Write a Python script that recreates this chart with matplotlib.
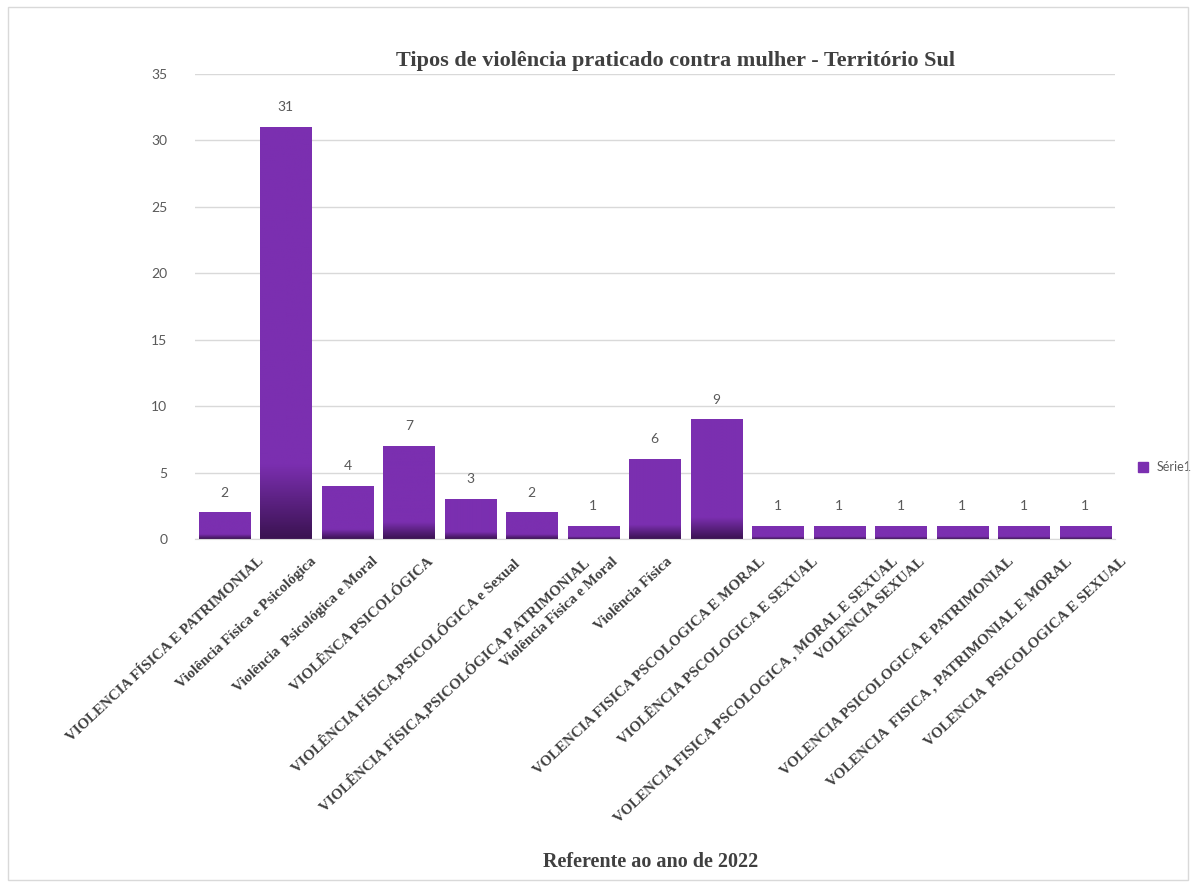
"""
Tipos de violência praticado contra mulher - Território Sul (2022)
"""

import numpy as np
import matplotlib.pyplot as plt
from matplotlib.colors import LinearSegmentedColormap
from matplotlib.patches import Rectangle
from matplotlib.lines import Line2D
from matplotlib.transforms import ScaledTranslation


# ── Data ─────────────────────────────────────────────────────────────────────
CATEGORIES = [
    "VIOLENCIA FÍSICA E PATRIMONIAL",
    "Violência Física e Psicológica",
    "Violência  Psicológica e Moral",
    "VIOLÊNCA PSICOLÓGICA",
    "VIOLÊNCIA FÍSICA,PSICOLÓGICA e Sexual",
    "VIOLÊNCIA FÍSICA,PSICOLÓGICA P ATRIMONIAL",
    "Violência Física e Moral",
    "Violência Física",
    "VOLENCIA FISICA PSCOLOGICA E MORAL",
    "VIOLÊNCIA PSCOLOGICA E SEXUAL",
    "VOLENCIA FISICA PSCOLOGICA , MORAL E SEXUAL",
    "VOLENCIA SEXUAL",
    "VOLENCIA PSICOLOGICA E PATRIMONIAL",
    "VOLENCIA  FISICA , PATRIMONIAL E MORAL",
    "VOLENCIA  PSICOLOGICA E SEXUAL",
]
VALUES = [2, 31, 4, 7, 3, 2, 1, 6, 9, 1, 1, 1, 1, 1, 1]
SERIES_NAME = "Série1"
Y_TICKS = [0, 5, 10, 15, 20, 25, 30, 35]

# label end offsets (px right of bar centre), as laid out in the original
LABEL_SHIFT = [33, 24, 24, 18, 41, 50, 18, 11, 43, 34, 52, 18, 45, 42, 35]

# ── Style ────────────────────────────────────────────────────────────────────
BAR_COLOR  = "#7b2fb0"
BAR_DARK   = "#3b1352"
TEXT_GRAY  = "#595959"
GRID_COLOR = "#d9d9d9"
SERIF      = ["Liberation Serif", "DejaVu Serif"]
SANS       = ["Lato", "DejaVu Sans"]

fig = plt.figure(figsize=(11.96, 8.86), dpi=100, facecolor="white")
ax = fig.add_axes([0.163, 0.3916, 0.769, 0.525])

x = np.arange(len(VALUES))
bars = ax.bar(x, VALUES, width=0.83, color=BAR_COLOR, zorder=2)

# darker shading towards the bottom of each bar
cmap = LinearSegmentedColormap.from_list("shade", [BAR_DARK, BAR_COLOR])
grad = np.clip(np.linspace(0, 1, 200) / 0.18, 0, 1).reshape(-1, 1)
for b in bars:
    x0, w, h = b.get_x(), b.get_width(), b.get_height()
    im = ax.imshow(grad, cmap=cmap, extent=(x0, x0 + w, 0, h), origin="lower",
                   aspect="auto", zorder=3, vmin=0, vmax=1)
    im.set_clip_path(b)

ax.set_xlim(-0.48, len(VALUES) - 0.52)
ax.set_ylim(0, 35)
ax.set_yticks(Y_TICKS)
ax.tick_params(axis="y", length=0, pad=20, labelsize=10, labelcolor=TEXT_GRAY)
for t in ax.get_yticklabels():
    t.set_fontfamily(SANS)
ax.grid(axis="y", color=GRID_COLOR, linewidth=1, zorder=0)
for s in ["top", "right", "left"]:
    ax.spines[s].set_visible(False)
ax.spines["bottom"].set_color(GRID_COLOR)
ax.spines["bottom"].set_zorder(4)

# value labels
for xi, v in zip(x, VALUES):
    ax.annotate(str(v), (xi, v), xytext=(0, 10), textcoords="offset points",
                ha="center", va="bottom", fontsize=10, color=TEXT_GRAY,
                family=SANS)

# rotated category labels
ax.set_xticks([])
for xi, lab, sh in zip(x, CATEGORIES, LABEL_SHIFT):
    off = ScaledTranslation(sh / 100, -16 / 100, fig.dpi_scale_trans)
    ax.text(xi, 0, lab, transform=ax.get_xaxis_transform() + off,
            rotation=43, rotation_mode="anchor", ha="right", va="top",
            fontsize=10.8, fontweight="bold", color="#3f3f3f", family=SERIF)

# titles
fig.text(0.565, 0.931, "Tipos de violência praticado contra mulher - Território Sul",
         ha="center", va="center", fontsize=16, fontweight="bold",
         color="#404040", family=SERIF)
fig.text(0.544, 0.027, "Referente ao ano de 2022", ha="center", va="center",
         fontsize=14.5, fontweight="bold", color="#404040", family=SERIF)

# legend
handle = Line2D([], [], marker="s", linestyle="none", markersize=7,
                color=BAR_COLOR)
leg = ax.legend([handle], [SERIES_NAME], loc="center left",
                bbox_to_anchor=(1.005, 0.155), frameon=False,
                handletextpad=0.1, prop={"family": SANS, "size": 9})
for t in leg.get_texts():
    t.set_color(TEXT_GRAY)

# outer chart border
fig.patches.append(Rectangle((0.007, 0.007), 0.986, 0.985,
                             transform=fig.transFigure, fill=False,
                             edgecolor="#d9d9d9", linewidth=1))

plt.savefig("out.png", dpi=100, facecolor="white")
